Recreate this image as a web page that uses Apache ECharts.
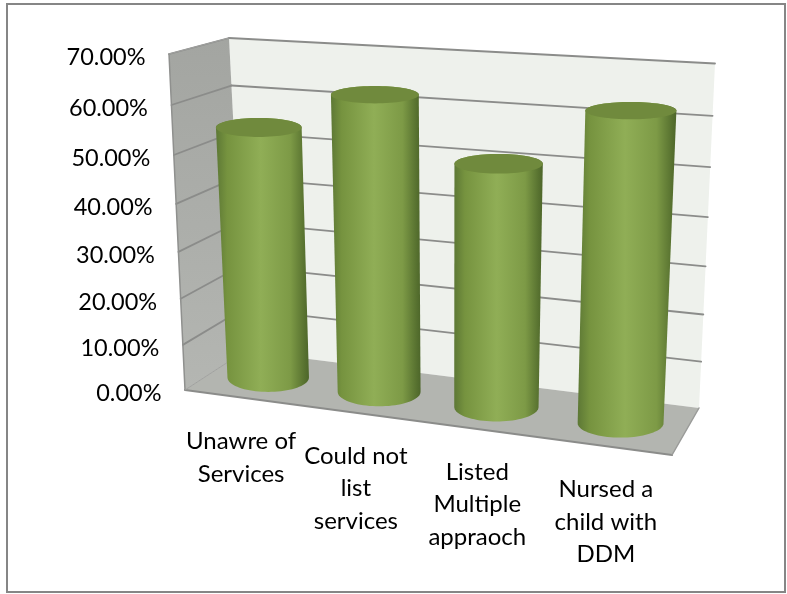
<!DOCTYPE html>
<html>
<head>
<meta charset="utf-8">
<style>html,body{margin:0;padding:0;background:#fff}#c{width:787px;height:594px}</style>
<script src="https://cdn.jsdelivr.net/npm/echarts@6/dist/echarts.min.js"></script>
</head>
<body>
<div id="c"></div>
<script>
const categories = ['Unawre of\nServices', 'Could not\nlist\nservices', 'Listed\nMultiple\nappraoch', 'Nursed a\nchild with\nDDM'];
const values = [0.542, 0.624, 0.505, 0.625];
const ticks = [0, 0.1, 0.2, 0.3, 0.4, 0.5, 0.6, 0.7];

const G = {left: 185, top: 54, width: 487, height: 336};
const C = {
  fbl: [185, 390], ftl: [169, 54], fbr: [672, 455], ftr: [688, 85],
  bbl: [245, 351], btl: [229, 38], bbr: [699, 408], btr: [715, 63.5]
};
const KU = 1.12, KV = 1.074, FONT = 'Lato';
const warp = (t, k) => t / (t + k * (1 - t));
const mix = (a, b, t) => [a[0] + (b[0] - a[0]) * t, a[1] + (b[1] - a[1]) * t];
function P(u, v, w) {
  const f = mix(mix(C.fbl, C.fbr, u), mix(C.ftl, C.ftr, u), v);
  const b = mix(mix(C.bbl, C.bbr, u), mix(C.btl, C.btr, u), v);
  return mix(f, b, w);
}
function norm(api, x, y) {
  const p = api.coord([x, y]);
  return [(p[0] - G.left) / G.width, (G.top + G.height - p[1]) / G.height];
}
const line = (a, b, stroke, lw) => ({type: 'line', shape: {x1: a[0], y1: a[1], x2: b[0], y2: b[1]}, style: {stroke, lineWidth: lw, lineCap: 'round'}});

function renderWalls(params, api) {
  const children = [
    {type: 'polygon', shape: {points: [P(0,0,1), P(1,0,1), P(1,1,1), P(0,1,1)]}, style: {fill: '#eef1ec'}},
    {type: 'polygon', shape: {points: [P(0,0,0), P(0,0,1), P(0,1,1), P(0,1,0)]},
      style: {fill: new echarts.graphic.LinearGradient(0, 0, 0, 1, [{offset: 0, color: '#a3a5a1'}, {offset: 1, color: '#b4b6b2'}])}},
    {type: 'polygon', shape: {points: [P(0,0,0), P(1,0,0), P(1,0,1), P(0,0,1)]}, style: {fill: '#b3b5b0'}}
  ];
  ticks.forEach(t => {
    const v = warp(norm(api, 0, t)[1], KV);
    if (t > 0) {
      children.push(line(P(0, v, 0), P(0, v, 1), '#8b8c8a', 1.8));
      children.push(line(P(0, v, 1), P(1, v, 1), '#8b8c8a', 1.8));
    }
  });
  children.push(line(P(0,0,0), P(0,1,0), '#8f908e', 1.5));
  children.push(line(P(0,0,0), P(1,0,0), '#8b8c8a', 2));
  children.push(line(P(1,0,0), P(1,0,1), '#9a9b99', 1.5));
  children.push(line(P(0,0,0), P(0,0,1), '#a0a19f', 1));
  children.push(line(P(0,1,0), P(0,1,1), '#a0a19f', 1));
  return {type: 'group', children};
}
function ellipse(c, rx, ry, from, to, n) {
  const out = [];
  for (let i = 0; i <= n; i++) {
    const a = from + (to - from) * i / n;
    out.push([c[0] + rx * Math.cos(a), c[1] + ry * Math.sin(a)]);
  }
  return out;
}
function renderBar(params, api) {
  const n = norm(api, api.value(0), api.value(1));
  const uc = warp(n[0], KU), v = warp(n[1], KV);
  const d = 0.089 * (0.965 + 0.07 * uc);
  const bot = P(uc, 0, 0.5), top = P(uc, v, 0.5);
  const rb = (P(uc + d, 0, 0.5)[0] - P(uc - d, 0, 0.5)[0]) / 2;
  const rt = (P(uc + d, v, 0.5)[0] - P(uc - d, v, 0.5)[0]) / 2;
  const ryb = 14.5, ryt = 14.5 - 6.6 * v;
  const body = ellipse(bot, rb, ryb, 0, Math.PI, 40).concat(ellipse(top, rt, ryt, Math.PI, 2 * Math.PI, 40));
  return {type: 'group', children: [
    {type: 'polygon', shape: {points: body}, style: {
      fill: new echarts.graphic.LinearGradient(0, 0, 1, 0, [
        {offset: 0, color: '#5d7835'}, {offset: 0.12, color: '#76933f'}, {offset: 0.48, color: '#90ae56'},
        {offset: 0.8, color: '#7d9a46'}, {offset: 0.95, color: '#587230'}, {offset: 1, color: '#4d662a'}])}},
    {type: 'polygon', shape: {points: ellipse(top, rt, ryt, 0, 2 * Math.PI, 72)}, style: {fill: '#708a3d'}}
  ]};
}
function renderYLabel(params, api) {
  const t = api.value(0);
  const v = warp(norm(api, 0, t)[1], KV);
  const p = P(0, v, 0);
  return {type: 'text', style: {x: p[0] - 23.5, y: p[1] + 3.5, text: (t * 100).toFixed(2) + '%', fill: '#000',
    fontFamily: FONT, fontSize: 23.5, align: 'right', verticalAlign: 'middle'}};
}
const xLabelNudge = [2, 1, 1, 1];
function renderXLabel(params, api) {
  const i = api.value(0);
  const p = P(warp(norm(api, i, 0)[0], KU), 0, 0);
  return {type: 'text', style: {x: p[0] + 1, y: p[1] + 26 + xLabelNudge[i], text: categories[i], fill: '#000',
    fontFamily: FONT, fontSize: 24, align: 'center', verticalAlign: 'top', lineHeight: 32.5}};
}
const chart = echarts.init(document.getElementById('c'), null, {renderer: 'canvas'});
chart.setOption({
  animation: false,
  backgroundColor: '#fff',
  graphic: [{type: 'rect', shape: {x: 7, y: 4, width: 778, height: 588}, style: {fill: 'none', stroke: '#868686', lineWidth: 2}, silent: true}],
  grid: {left: G.left, top: G.top, width: G.width, height: G.height},
  xAxis: {type: 'category', data: categories, show: false},
  yAxis: {type: 'value', min: 0, max: 0.7, interval: 0.1, show: false},
  series: [
    {type: 'custom', z: 1, silent: true, clip: false, data: [[0, 0]], renderItem: renderWalls},
    {type: 'custom', z: 2, silent: true, clip: false, name: 'Share', data: values.map((y, i) => [i, y]), encode: {x: 0, y: 1}, renderItem: renderBar},
    {type: 'custom', z: 3, silent: true, clip: false, data: ticks.map(t => [t]), encode: {y: 0}, renderItem: renderYLabel},
    {type: 'custom', z: 3, silent: true, clip: false, data: categories.map((c, i) => [i]), encode: {x: 0}, renderItem: renderXLabel}
  ]
});
</script>
</body>
</html>
